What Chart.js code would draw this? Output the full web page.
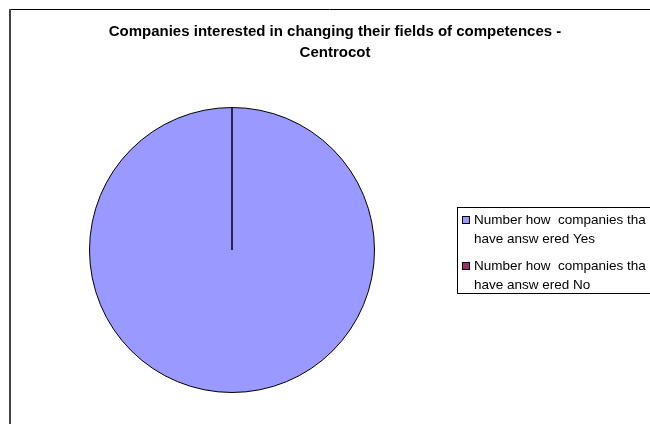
<!DOCTYPE html>
<html><head><meta charset="utf-8">
<script src="https://cdn.jsdelivr.net/npm/chart.js@4"></script>
<style>html,body{margin:0;padding:0;background:#fff;overflow:hidden}#wrap{width:650px;height:424px;position:relative}</style>
</head><body><div id="wrap"><canvas id="c" width="650" height="424"></canvas></div>
<script>
const titleLines = ['Companies interested in changing their fields of competences -', 'Centrocot'];
const categories = ['Number how  companies that have answered Yes', 'Number how  companies that have answered No'];
const legendLines = [['Number how  companies tha', 'have answ ered Yes'], ['Number how  companies tha', 'have answ ered No']];
const values = [10, 0];
const colors = ['#9999FF', '#993366'];

const frame = {
  id: 'frame',
  beforeDraw(chart) {
    const ctx = chart.ctx;
    ctx.save();
    ctx.fillStyle = '#fff';
    ctx.fillRect(0, 0, chart.width, chart.height);
    ctx.strokeStyle = '#000';
    ctx.lineWidth = 1;
    ctx.beginPath(); ctx.moveTo(9, 9.5); ctx.lineTo(chart.width, 9.5); ctx.stroke();
    ctx.strokeStyle = '#444';
    ctx.lineWidth = 2;
    ctx.beginPath(); ctx.moveTo(10, 9); ctx.lineTo(10, chart.height); ctx.stroke();
    ctx.restore();
  },
  afterDraw(chart) {
    const ctx = chart.ctx;
    ctx.save();
    ctx.fillStyle = '#000';
    ctx.textAlign = 'center';
    ctx.textBaseline = 'middle';
    ctx.font = 'bold 15px "Liberation Sans", Arial, sans-serif';
    titleLines.forEach((t, i) => ctx.fillText(t, 335, 32 + i * 21));
    // legend
    ctx.strokeStyle = '#000';
    ctx.lineWidth = 1;
    ctx.strokeRect(457.5, 207.5, 260, 86);
    ctx.font = '13.5px "Liberation Sans", Arial, sans-serif';
    ctx.textAlign = 'left';
    legendLines.forEach((lines, i) => {
      const y0 = 220 + i * 46;
      ctx.fillStyle = colors[i];
      ctx.fillRect(462.5, y0 - 3.5, 7, 7);
      ctx.strokeStyle = '#000';
      ctx.strokeRect(462.5, y0 - 3.5, 7, 7);
      ctx.fillStyle = '#000';
      lines.forEach((l, j) => ctx.fillText(l, 474, y0 + j * 19));
    });
    ctx.restore();
  }
};

new Chart(document.getElementById('c'), {
  type: 'pie',
  data: {
    labels: categories,
    datasets: [{ data: values, backgroundColor: colors, borderColor: '#000', borderWidth: 1 }]
  },
  options: {
    responsive: false,
    animation: false,
    layout: { padding: { left: 89, right: 275, top: 107, bottom: 31 } },
    plugins: { legend: { display: false }, title: { display: false }, tooltip: { enabled: false } }
  },
  plugins: [frame]
});
</script></body></html>
